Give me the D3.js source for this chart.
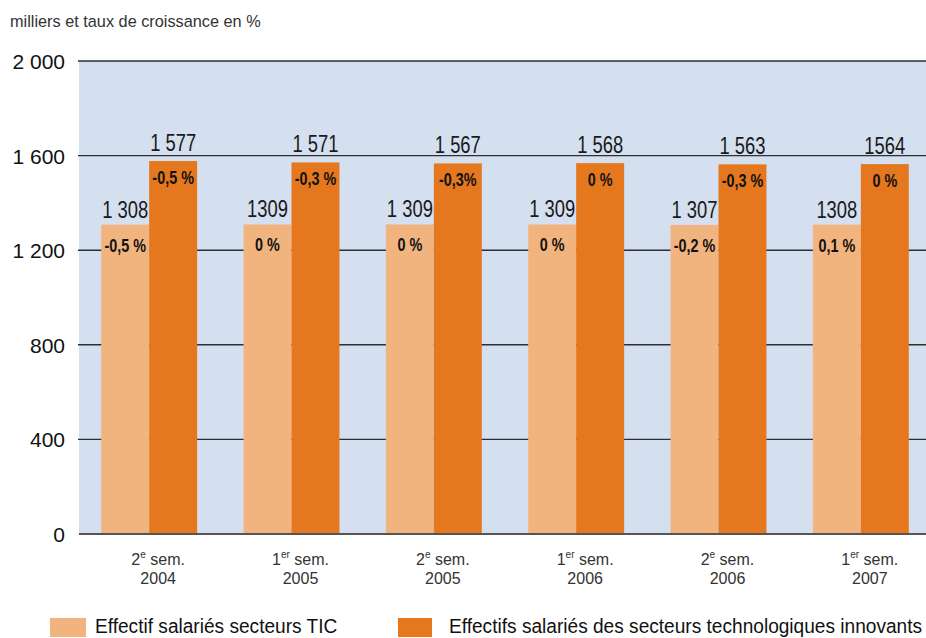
<!DOCTYPE html>
<html>
<head>
<meta charset="utf-8">
<script src="https://cdn.jsdelivr.net/npm/d3@7"></script>
<style>
  html, body { margin: 0; padding: 0; background: #ffffff; }
  svg { display: block; }
  .reg { font-family: 'Liberation Sans', Arial, sans-serif; }
</style>
</head>
<body>
<svg id="chart" width="926" height="638"></svg>
<script>
// ---- data ----
const periods = ["2e sem. 2004", "1er sem. 2005", "2e sem. 2005", "1er sem. 2006", "2e sem. 2006", "1er sem. 2007"];
const periodOrd = ["e", "er", "e", "er", "e", "er"];
const periodNum = ["2", "1", "2", "1", "2", "1"];
const periodYear = ["2004", "2005", "2005", "2006", "2006", "2007"];
const seriesNames = ["Effectif salariés secteurs TIC", "Effectifs salariés des secteurs technologiques innovants"];
const ticValues = [1308, 1309, 1309, 1309, 1307, 1308];
const innovValues = [1577, 1571, 1567, 1568, 1563, 1564];
const ticLabels = ["1 308", "1309", "1 309", "1 309", "1 307", "1308"];
const innovLabels = ["1 577", "1 571", "1 567", "1 568", "1 563", "1564"];
const ticGrowth = ["-0,5 %", "0 %", "0 %", "0 %", "-0,2 %", "0,1 %"];
const innovGrowth = ["-0,5 %", "-0,3 %", "-0,3%", "0 %", "-0,3 %", "0 %"];
const yTicks = [0, 400, 800, 1200, 1600, 2000];
const yTickLabels = ["0", "400", "800", "1 200", "1 600", "2 000"];
const unitTitle = "milliers et taux de croissance en %";

// ---- layout ----
const colors = ["#f2b47f", "#e5781e"];
const svg = d3.select("#chart");
const plot = { left: 79, right: 926, top: 61, bottom: 534 };

const x0 = d3.scaleBand().domain(d3.range(periods.length))
  .range([78, 932]).paddingInner(0.326).paddingOuter(0.163);
const x1 = d3.scaleBand().domain([0, 1]).range([0, x0.bandwidth()]);
const y = d3.scaleLinear().domain([0, 2000]).range([plot.bottom, plot.top]);

// background
svg.append("rect").attr("x", plot.left).attr("y", y(2000))
  .attr("width", plot.right - plot.left).attr("height", y(0) - y(2000))
  .attr("fill", "#d4dff0");

// gridlines
svg.append("g").selectAll("line").data(yTicks.filter(d => d > 0)).join("line")
  .attr("x1", plot.left - 1).attr("x2", plot.right)
  .attr("y1", d => y(d)).attr("y2", d => y(d))
  .attr("stroke", "#2f2f2f").attr("stroke-width", 1.4);

// y labels
svg.append("g").selectAll("text").data(yTicks).join("text")
  .attr("class", "reg")
  .attr("x", 65).attr("y", d => y(d) + 8)
  .attr("text-anchor", "end").attr("font-size", 21).attr("fill", "#111")
  .text((d, i) => yTickLabels[i]);

// unit title
svg.append("text").attr("class", "reg").attr("x", 10).attr("y", 27)
  .attr("font-size", 16.3).attr("fill", "#333").text(unitTitle);

// bars
const rows = periods.map((p, i) => ({
  i,
  vals: [
    { s: 0, v: ticValues[i], lab: ticLabels[i], g: ticGrowth[i] },
    { s: 1, v: innovValues[i], lab: innovLabels[i], g: innovGrowth[i] }
  ]
}));

const grp = svg.append("g").selectAll("g").data(rows).join("g")
  .attr("transform", d => `translate(${x0(d.i)},0)`);

grp.selectAll("rect").data(d => d.vals).join("rect")
  .attr("x", d => x1(d.s)).attr("width", x1.bandwidth())
  .attr("y", d => y(d.v)).attr("height", d => y(0) - y(d.v))
  .attr("fill", d => colors[d.s]);

// value labels (condensed)
grp.selectAll("text.val").data(d => d.vals).join("text")
  .attr("class", "val reg")
  .attr("transform", d => `translate(${x1(d.s) + x1.bandwidth() / 2},${y(d.v) - (d.s === 0 ? 7 : 10)}) scale(0.8,1)`)
  .attr("text-anchor", "middle").attr("font-size", 23).attr("fill", "#1a1a1a")
  .text(d => d.lab);

// growth labels (condensed bold)
grp.selectAll("text.gr").data(d => d.vals).join("text")
  .attr("class", "gr reg")
  .attr("transform", d => `translate(${x1(d.s) + x1.bandwidth() / 2},${y(d.v) + (d.s === 0 ? 27 : 23)}) scale(0.8,1)`)
  .attr("text-anchor", "middle").attr("font-size", 18).attr("font-weight", "bold").attr("fill", "#111")
  .text(d => d.g);

// x axis line
svg.append("line").attr("x1", plot.left).attr("x2", plot.right)
  .attr("y1", y(0)).attr("y2", y(0))
  .attr("stroke", "#555").attr("stroke-width", 2);

// x labels
const xl = svg.append("g").selectAll("g").data(periods).join("g")
  .attr("transform", (d, i) => `translate(${x0(i) + x0.bandwidth() / 2 + 9},0)`);
const l1 = xl.append("text").attr("class", "reg").attr("y", 565)
  .attr("text-anchor", "middle").attr("font-size", 16).attr("fill", "#333");
l1.append("tspan").text((d, i) => periodNum[i]);
l1.append("tspan").attr("dy", -7).attr("font-size", 10).text((d, i) => periodOrd[i]);
l1.append("tspan").attr("dy", 7).text(" sem.");
xl.append("text").attr("class", "reg").attr("y", 584)
  .attr("text-anchor", "middle").attr("font-size", 16).attr("fill", "#333")
  .text((d, i) => periodYear[i]);

// legend
const legX = [50, 398];
const leg = svg.append("g").selectAll("g").data(seriesNames).join("g")
  .attr("transform", (d, i) => `translate(${legX[i]},618)`);
leg.append("rect").attr("width", (d, i) => i === 0 ? 36 : 34).attr("height", 19)
  .attr("fill", (d, i) => colors[i]);
leg.append("text").attr("class", "reg")
  .attr("transform", (d, i) => `translate(${i === 0 ? 45 : 51},15) scale(0.91,1)`)
  .attr("font-size", 21).attr("fill", "#111").text(d => d);
</script>
</body>
</html>
